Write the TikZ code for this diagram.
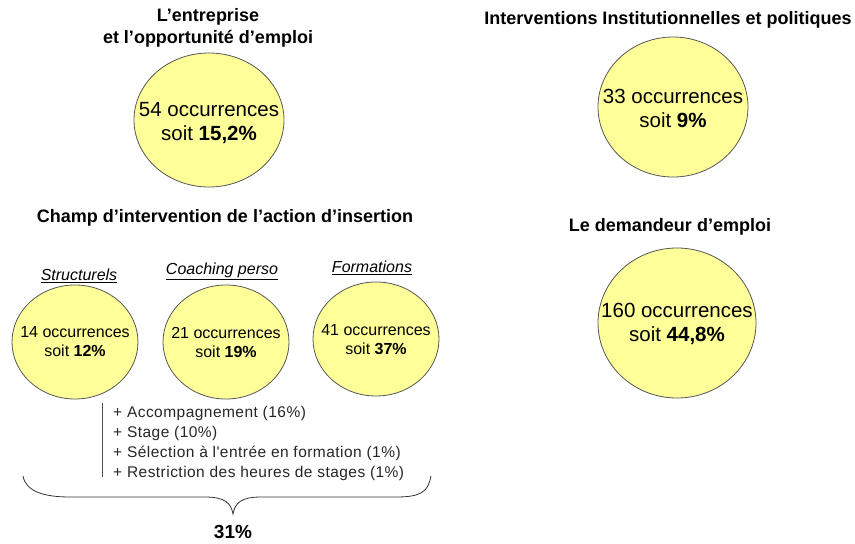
\documentclass[tikz,border=0pt]{standalone}
\usepackage{fontspec}
\setmainfont{Liberation Sans}
\newfontfamily\spacedfont[LetterSpace=3]{Liberation Sans}
\definecolor{circfill}{HTML}{FFFF99}
\definecolor{circline}{HTML}{555555}
\tikzset{
  ttl/.style={font=\fontsize{18}{21.5}\selectfont\bfseries, align=center, inner sep=0pt},
  bigtxt/.style={font=\fontsize{20.5}{24}\selectfont, align=center, inner sep=0pt},
  smalltxt/.style={font=\fontsize{16}{19}\selectfont, align=center, inner sep=0pt},
  lab/.style={font=\fontsize{16}{19}\selectfont\itshape, inner sep=0pt},
  lst/.style={font=\spacedfont\fontsize{15.5}{20}\selectfont, anchor=west, inner sep=0pt, text=black!85},
  bubbleline/.style={draw=circline, line width=0.8pt, fill=circfill},
}
\begin{document}
\begin{tikzpicture}[x=1pt,y=-1pt]
\useasboundingbox (0,0) rectangle (855,544);
% top left
\node[ttl] (t1) at (208,28) {L’entreprise\\et l’opportunité d’emploi};
\draw[bubbleline] (209,120) ellipse [x radius=75, y radius=67];
\node[bigtxt] (c1) at (209,123) {54 occurrences\\soit \textbf{15,2\%}};
% top right
\node[ttl] (t2) at (668,20) {Interventions Institutionnelles et politiques};
\draw[bubbleline] (673,107) ellipse [x radius=75, y radius=70];
\node[bigtxt] (c2) at (673,108) {33 occurrences\\soit \textbf{9\%}};
% bottom right
\node[ttl] (t3) at (670,227) {Le demandeur d’emploi};
\draw[bubbleline] (677,323) ellipse [x radius=79, y radius=75];
\node[bigtxt] (c3) at (677,324) {160 occurrences\\soit \textbf{44,8\%}};
% champ
\node[ttl] (t4) at (225,218) {Champ d’intervention de l’action d’insertion};
\node[lab] (l1) at (79,276) {\underline{Structurels}};
\node[lab] (l2) at (222,271) {\underline{Coaching perso}};
\node[lab] (l3) at (372,268) {\underline{Formations}};
\draw[bubbleline] (75,342) ellipse [x radius=63, y radius=57];
\draw[bubbleline] (226,342) ellipse [x radius=63, y radius=57];
\draw[bubbleline] (376,339) ellipse [x radius=63, y radius=57];
\node[smalltxt] (s1) at (75,342) {14 occurrences\\soit \textbf{12\%}};
\node[smalltxt] (s2) at (226,342) {21 occurrences\\soit \textbf{19\%}};
\node[smalltxt] (s3) at (376,340) {41 occurrences\\soit \textbf{37\%}};
% list
\draw[black!70, line width=0.8pt] (102,403) -- (102,477);
\node[lst] (a1) at (113,413) {+ Accompagnement (16\%)};
\node[lst] (a2) at (113,433) {+ Stage (10\%)};
\node[lst] (a3) at (113,453) {+ Sélection à l'entrée en formation (1\%)};
\node[lst] (a4) at (113,473) {+ Restriction des heures de stages (1\%)};
% brace
\draw[black!80, line width=0.8pt] (23,476) .. controls (26,492) and (45,497) .. (70,497)
  -- (205,497) .. controls (225,497) and (231,503) .. (233,514)
  .. controls (235,503) and (241,497) .. (261,497)
  -- (396,497) .. controls (421,497) and (428,492) .. (431,476);
\node[font=\fontsize{19}{22}\selectfont\bfseries, inner sep=0pt] (p) at (233,532) {31\%};
\end{tikzpicture}
\end{document}
